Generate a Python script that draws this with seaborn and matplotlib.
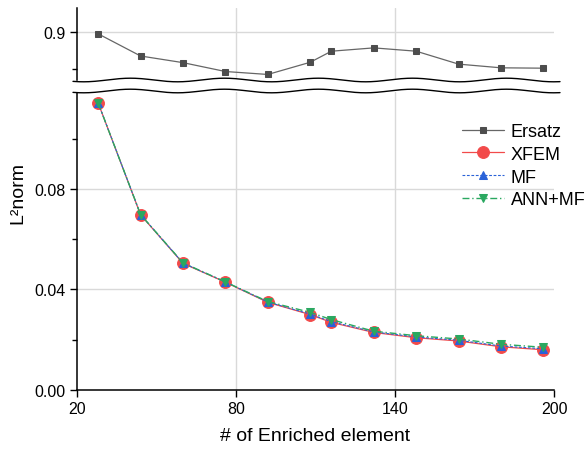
import numpy as np
import pandas as pd
import matplotlib
matplotlib.use("Agg")
import matplotlib.pyplot as plt
import seaborn as sns
from matplotlib.lines import Line2D
from matplotlib.patches import Polygon
from matplotlib.ticker import FixedLocator, FormatStrFormatter

# ---- data ----
elements = [28, 44, 60, 76, 92, 108, 116, 132, 148, 164, 180, 196]
ersatz = [0.898, 0.868, 0.859, 0.847, 0.843, 0.8595, 0.8745, 0.879, 0.8745, 0.857, 0.852, 0.8515]
xfem = [0.1142, 0.0697, 0.0504, 0.0429, 0.0349, 0.0300, 0.0269, 0.0229, 0.0208, 0.0195, 0.0172, 0.0160]
mf = [0.1142, 0.0698, 0.0505, 0.0430, 0.0350, 0.0302, 0.0272, 0.0231, 0.0211, 0.0198, 0.0175, 0.0164]
ann_mf = [0.1142, 0.0698, 0.0506, 0.0430, 0.0352, 0.0309, 0.0280, 0.0234, 0.0216, 0.0203, 0.0182, 0.0170]
x_ticks = [20, 80, 140, 200]
y_ticks_bottom = [0.00, 0.04, 0.08]
y_minor_bottom = [0.02, 0.06, 0.10]
y_ticks_top = [0.9]
y_minor_top = [0.85]

sns.set_style("white")
plt.rcParams['font.family'] = ['Liberation Sans', 'DejaVu Sans']
plt.rcParams['text.color'] = 'black'
plt.rcParams['axes.labelcolor'] = 'black'
plt.rcParams['xtick.color'] = 'black'
plt.rcParams['ytick.color'] = 'black'
plt.rcParams['xtick.labelcolor'] = 'black'
plt.rcParams['ytick.labelcolor'] = 'black'

W, H = 587, 452
fig = plt.figure(figsize=(W / 100, H / 100), dpi=100)

def fx(px):
    return px / W

def fy(py):
    return 1 - py / H

left, right = 77, 554
ax_top = fig.add_axes([fx(left), fy(81), fx(right - left), fy(9) - fy(81)])
ax_bot = fig.add_axes([fx(left), fy(391), fx(right - left), fy(93) - fy(391)])

c_ers = "#4d4d4d"
c_xfem = "#f24a4a"
c_mf = "#2a62d8"
c_ann = "#2aa860"

sns.lineplot(x=elements, y=ersatz, ax=ax_top, color="#666666", marker="s", markersize=5,
             markerfacecolor=c_ers, markeredgecolor=c_ers, linewidth=0.9, label="Ersatz")
sns.lineplot(x=elements, y=xfem, ax=ax_bot, color=c_xfem, marker="o", markersize=8.5,
             markerfacecolor=c_xfem, markeredgecolor=c_xfem, linewidth=0.9, label="XFEM")
sns.lineplot(x=elements, y=mf, ax=ax_bot, color=c_mf, marker="^", markersize=5.5,
             markerfacecolor=c_mf, markeredgecolor=c_mf, linewidth=0.8,
             linestyle=(0, (2.5, 1.5)), label="MF")
sns.lineplot(x=elements, y=ann_mf, ax=ax_bot, color=c_ann, marker="v", markersize=5.5,
             markerfacecolor=c_ann, markeredgecolor=c_ann, linewidth=1.0,
             linestyle=(0, (5, 2, 1, 2)), label="ANN+MF")

for ax in (ax_top, ax_bot):
    ax.set_xlim(20, 200)
    ax.set_facecolor("white")
    ax.xaxis.set_major_locator(FixedLocator(x_ticks))
    ax.grid(True, which="major", color="#d9d9d9", linewidth=1.0)
    ax.set_axisbelow(True)
    for s in ("top", "right"):
        ax.spines[s].set_visible(False)
    ax.spines["left"].set_color("black")
    ax.spines["left"].set_linewidth(1.1)
    ax.tick_params(axis="y", which="major", direction="out", length=5, width=1.0,
                   color="black", labelcolor="black", labelsize=11.5, pad=3, left=True)
    ax.tick_params(axis="y", which="minor", direction="out", length=3.5, width=1.0,
                   color="black", left=True)
    ax.set_xlabel("")
    ax.set_ylabel("")
    if ax.get_legend():
        ax.get_legend().remove()

# hide vertical grid lines at the ends
for ax in (ax_top, ax_bot):
    for val, t in zip(x_ticks, ax.xaxis.get_major_ticks()):
        if val in (20, 200):
            t.gridline.set_visible(False)

ax_top.set_ylim(0.8355, 0.933)
ax_top.yaxis.set_major_locator(FixedLocator(y_ticks_top))
ax_top.yaxis.set_minor_locator(FixedLocator(y_minor_top))
ax_top.yaxis.set_major_formatter(FormatStrFormatter("%.1f"))
ax_top.spines["bottom"].set_visible(False)
ax_top.tick_params(axis="x", bottom=False, labelbottom=False)

ax_bot.set_ylim(0, 0.1186)
ax_bot.yaxis.set_major_locator(FixedLocator(y_ticks_bottom))
ax_bot.yaxis.set_minor_locator(FixedLocator(y_minor_bottom))
ax_bot.yaxis.set_major_formatter(FormatStrFormatter("%.2f"))
ax_bot.spines["bottom"].set_color("black")
ax_bot.spines["bottom"].set_linewidth(1.1)
ax_bot.tick_params(axis="x", which="major", direction="out", length=5, width=1.0,
                   color="black", labelcolor="black", labelsize=11.5, pad=3, bottom=True)
for val, t in zip(y_ticks_bottom, ax_bot.yaxis.get_major_ticks()):
    if val == 0.0:
        t.gridline.set_visible(False)
ax_bot.set_xlabel("# of Enriched element", fontsize=14, labelpad=8, color="black")

fig.text(fx(18), fy(193), "L²norm", rotation=90, fontsize=14, ha="center", va="center",
         color="black")

# break marks (wavy lines)
xs = np.linspace(73, 560, 400)
wave = 1.8 * np.sin(2 * np.pi * (xs - 60) / 94)
y_up = 81 + wave
y_lo = 92 + wave
poly = np.concatenate([np.column_stack([fx(xs), fy(y_up)]),
                       np.column_stack([fx(xs[::-1]), fy(y_lo[::-1])])])
fig.add_artist(Polygon(poly, closed=True, facecolor="white", edgecolor="none",
                       transform=fig.transFigure, zorder=5))
fig.add_artist(Line2D(fx(xs), fy(y_up), color="black", linewidth=1.0,
                      transform=fig.transFigure, zorder=6))
fig.add_artist(Line2D(fx(xs), fy(y_lo), color="black", linewidth=1.0,
                      transform=fig.transFigure, zorder=6))

# legend
h1, l1 = ax_top.get_legend_handles_labels()
h2, l2 = ax_bot.get_legend_handles_labels()
fig.legend(h1 + h2, l1 + l2, loc="upper left", bbox_to_anchor=(fx(462), fy(124)),
           frameon=False, fontsize=13, borderpad=0, borderaxespad=0,
           handlelength=2.35, handletextpad=0.35, labelspacing=0.32)

fig.savefig("out.png", dpi=100)
